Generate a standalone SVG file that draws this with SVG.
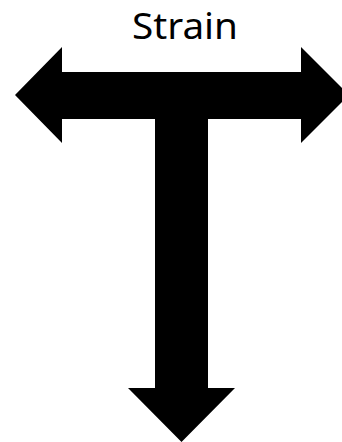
<svg xmlns="http://www.w3.org/2000/svg" width="342" height="442" viewBox="0 0 342 442">
<style>
.lbl{font-family:"Noto Sans","Open Sans","Liberation Sans",sans-serif;font-size:36.5px;fill:#000}
.arrow{fill:#000;stroke:none}
</style>
<rect width="342" height="442" fill="#fff"/>
<g id="label">
<text class="lbl" x="185" y="39" text-anchor="middle" textLength="106" lengthAdjust="spacingAndGlyphs">Strain</text>
</g>
<g id="connectors">
<polygon class="arrow" points="15,95 62,47 62,72 301,72 301,47 349,95 301,143 301,119 208,119 208,388 235,388 181.5,442 128,388 155,388 155,119 62,119 62,143"/>
</g>
</svg>
